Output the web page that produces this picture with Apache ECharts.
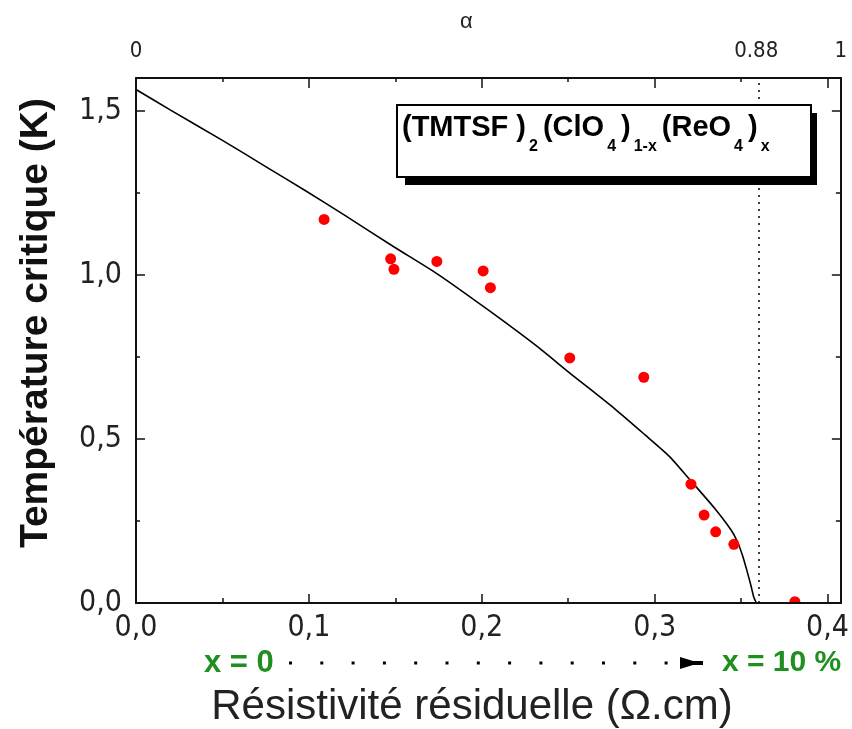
<!DOCTYPE html>
<html>
<head>
<meta charset="utf-8">
<script src="https://cdn.jsdelivr.net/npm/echarts@6/dist/echarts.min.js"></script>
<style>
html,body{margin:0;padding:0;background:#fff;}
#chart{width:852px;height:729px;}
</style>
</head>
<body>
<div id="chart"></div>
<script>
// ---- data ----
const RHO_MAX = 0.4077;          // resistivity at alpha = 1
const RHO_CRIT = 0.3588;         // resistivity at alpha = 0.88 (Tc -> 0)
const T_MAX = 1.6;
const rhoMajorTicks = [0, 0.1, 0.2, 0.3, 0.4];
const rhoMinorTicks = [0.05, 0.15, 0.25, 0.35];
const tMajorTicks = [0, 0.5, 1.0, 1.5];
const tMinorTicks = [0.25, 0.75, 1.25];
const alphaTickValues = [0, 0.88, 1];
const alphaTickLabels = ['0', '0.88', '1'];

// measured points (resistivity, Tc)
const pointsRho = [0.1088, 0.1473, 0.1492, 0.1740, 0.2008, 0.2050, 0.2509, 0.2937, 0.3210, 0.3286, 0.3353, 0.3458, 0.3811];
const pointsTc  = [1.169, 1.049, 1.017, 1.041, 1.012, 0.961, 0.747, 0.688, 0.362, 0.268, 0.217, 0.179, 0.004];

// theory curve
const curveRho = [0, 0.02, 0.05, 0.075, 0.0976, 0.1206, 0.1493, 0.174, 0.2027, 0.2313, 0.2504, 0.2771, 0.2943, 0.3085, 0.32, 0.3343, 0.3440, 0.3477, 0.3510, 0.3534, 0.3556, 0.3573, 0.3588];
const curveTc  = [1.565, 1.502, 1.41, 1.33, 1.258, 1.182, 1.085, 1.004, 0.897, 0.785, 0.703, 0.591, 0.513, 0.447, 0.378, 0.291, 0.224, 0.189, 0.142, 0.098, 0.055, 0.018, 0];

const yTitle = 'Température critique (K)';
const xTitle = 'Résistivité résiduelle (Ω.cm)';
const topTitle = 'α';

// ---- chart ----
const NARROW = "'Liberation Sans Narrow','Arial Narrow','DejaVu Sans Condensed','Liberation Sans',sans-serif";
const SANS = "'Liberation Sans',Arial,sans-serif";
const comma = v => (Math.round(v * 10) / 10).toFixed(1).replace('.', ',');
const axisCol = '#111';

const chart = echarts.init(document.getElementById('chart'), null, {renderer: 'canvas'});

function rhoAxis(pos, major, withLine, withLabels, len) {
  return {
    type: 'value', position: pos, min: 0, max: RHO_MAX, gridIndex: 0, z: 10,
    axisLine: {show: withLine, onZero: false, lineStyle: {color: axisCol, width: 2}},
    axisTick: {show: true, inside: true, length: len, customValues: major, lineStyle: {color: axisCol, width: 1.5}},
    axisLabel: withLabels ? {show: true, customValues: major, formatter: comma, fontFamily: NARROW, fontSize: 30, color: '#222', margin: 10} : {show: false},
    splitLine: {show: false}
  };
}
function tAxis(pos, major, withLine, withLabels, len) {
  return {
    type: 'value', position: pos, min: 0, max: T_MAX, gridIndex: 0, z: 10,
    axisLine: {show: withLine, onZero: false, lineStyle: {color: axisCol, width: 2}},
    axisTick: {show: true, inside: true, length: len, customValues: major, lineStyle: {color: axisCol, width: 1.5}},
    axisLabel: withLabels ? {show: true, customValues: major, formatter: comma, fontFamily: NARROW, fontSize: 30, color: '#222', margin: 14} : {show: false},
    splitLine: {show: false}
  };
}

const option = {
  backgroundColor: '#fff',
  animation: false,
  grid: {left: 136, top: 78, width: 712, height: 525, containLabel: false},
  xAxis: [
    rhoAxis('bottom', rhoMajorTicks, true, true, 9),
    rhoAxis('bottom', rhoMinorTicks, false, false, 5),
    rhoAxis('top', rhoMajorTicks, false, false, 10),
    rhoAxis('top', rhoMinorTicks, false, false, 4),
    {
      type: 'value', position: 'top', min: 0, max: 1, gridIndex: 0, z: 10,
      name: topTitle, nameLocation: 'middle', nameGap: 45,
      nameTextStyle: {fontFamily: SANS, fontSize: 22, color: '#222', padding: [0, 44, 0, 0]},
      axisLine: {show: true, onZero: false, lineStyle: {color: axisCol, width: 2}},
      axisTick: {show: false},
      axisLabel: {show: true, customValues: alphaTickValues,
        formatter: v => alphaTickLabels[alphaTickValues.indexOf(v)] ?? String(v),
        fontFamily: NARROW, fontSize: 22, color: '#222', margin: 16},
      splitLine: {show: false}
    }
  ],
  yAxis: [
    tAxis('left', tMajorTicks, true, true, 9),
    tAxis('left', tMinorTicks, false, false, 4),
    tAxis('right', tMajorTicks, true, false, 9),
    tAxis('right', tMinorTicks, false, false, 5)
  ],
  series: [
    {
      type: 'line', xAxisIndex: 0, yAxisIndex: 0, z: 3,
      data: curveRho.map((r, i) => [r, curveTc[i]]),
      showSymbol: false, symbol: 'none', smooth: 0.2,
      lineStyle: {color: '#000', width: 1.6},
      markLine: {
        silent: true, symbol: 'none', animation: false,
        label: {show: false},
        lineStyle: {color: '#000', width: 1.5, type: [2, 5]},
        data: [{xAxis: RHO_CRIT}]
      }
    },
    {
      type: 'scatter', xAxisIndex: 0, yAxisIndex: 0, z: 4,
      data: pointsRho.map((r, i) => [r, pointsTc[i]]),
      symbol: 'circle', symbolSize: 11,
      itemStyle: {color: '#ff0000', opacity: 1}
    }
  ],
  graphic: [
    // cover the part of the last dot that falls below the axis
    {type: 'rect', z: 5, shape: {x: 137, y: 604, width: 710, height: 8}, style: {fill: '#fff'}},
    // y title
    {type: 'text', x: 36, y: 323, rotation: Math.PI / 2,
      style: {text: yTitle, fontFamily: SANS, fontWeight: 'bold', fontSize: 39, fill: '#111', align: 'center', verticalAlign: 'middle'}},
    // x title
    {type: 'text', x: 472, y: 707,
      style: {text: xTitle, fontFamily: SANS, fontSize: 42, fill: '#222', align: 'center', verticalAlign: 'middle'}},
    // doping annotation
    {type: 'text', x: 204, y: 663,
      style: {text: 'x = 0', fontFamily: SANS, fontWeight: 'bold', fontSize: 31, fill: '#1f8f1f', align: 'left', verticalAlign: 'middle'}},
    {type: 'text', x: 722, y: 663,
      style: {text: 'x = 10 %', fontFamily: SANS, fontWeight: 'bold', fontSize: 30, fill: '#1f8f1f', align: 'left', verticalAlign: 'middle'}},
    {type: 'line', shape: {x1: 289, y1: 663, x2: 668, y2: 663},
      style: {stroke: '#000', lineWidth: 3, lineDash: [3, 28.3]}},
    {type: 'polygon', shape: {points: [[680, 657], [693, 661], [703, 661], [703, 665], [693, 665], [680, 669]]},
      style: {fill: '#000'}},
    // formula box
    {type: 'rect', z: 20, shape: {x: 405, y: 113, width: 412, height: 72}, style: {fill: '#000'}},
    {type: 'rect', z: 21, shape: {x: 397, y: 105, width: 414, height: 72}, style: {fill: '#fff', stroke: '#000', lineWidth: 2}},
    {type: 'text', z: 22, x: 402, y: 113,
      style: {
        text: '{m|(TMTSF )}{s|2}{m|(ClO}{s|4}{m|)}{s|1-x}{m|(ReO}{s|4}{m|)}{s|x}',
        verticalAlign: 'top', align: 'left',
        rich: {
          m: {fontFamily: SANS, fontWeight: 'bold', fontSize: 29, lineHeight: 32, verticalAlign: 'top', fill: '#000'},
          s: {fontFamily: SANS, fontWeight: 'bold', fontSize: 16, lineHeight: 16, verticalAlign: 'top', padding: [26, 5, 0, 3], fill: '#000'}
        }
      }}
  ]
};
chart.setOption(option);
</script>
</body>
</html>
